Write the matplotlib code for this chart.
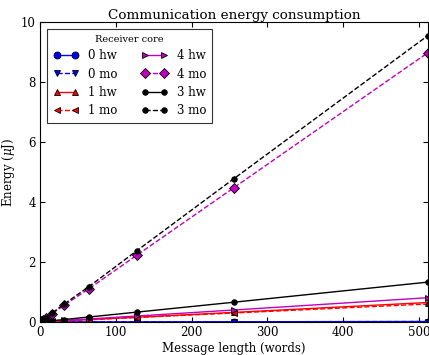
import matplotlib
matplotlib.use("Agg")
import matplotlib.pyplot as plt

plt.rcParams['font.family'] = ['DejaVu Serif']
plt.rcParams['mathtext.fontset'] = 'dejavuserif'

x = [1, 2, 4, 8, 16, 32, 64, 128, 256, 512]
e0hw = [0.0, 0.0, 0.0, 0.0, 0.001, 0.001, 0.002, 0.004, 0.008, 0.015]
e0mo = [0.0, 0.0, 0.0, 0.0, 0.001, 0.001, 0.002, 0.004, 0.008, 0.016]
e1hw = [0.002, 0.003, 0.006, 0.011, 0.021, 0.041, 0.08, 0.16, 0.32, 0.65]
e1mo = [0.002, 0.003, 0.006, 0.01, 0.019, 0.038, 0.075, 0.15, 0.3, 0.6]
e4hw = [0.002, 0.004, 0.007, 0.013, 0.026, 0.052, 0.1, 0.2, 0.4, 0.81]
e4mo = [0.018, 0.035, 0.07, 0.14, 0.28, 0.56, 1.1, 2.23, 4.48, 8.98]
e3hw = [0.003, 0.005, 0.01, 0.021, 0.042, 0.083, 0.165, 0.33, 0.66, 1.33]
e3mo = [0.019, 0.037, 0.075, 0.15, 0.3, 0.6, 1.17, 2.38, 4.78, 9.55]

series = [
    ("0 hw", e0hw, 'b', '-', 'o', 5),
    ("0 mo", e0mo, 'b', '--', 'v', 5),
    ("1 hw", e1hw, 'r', '-', '^', 5),
    ("1 mo", e1mo, 'r', '--', '<', 5),
    ("4 hw", e4hw, 'm', '-', '>', 5),
    ("4 mo", e4mo, 'm', '--', 'D', 5),
    ("3 hw", e3hw, 'k', '-', 'o', 4),
    ("3 mo", e3mo, 'k', '--', 'o', 4),
]

fig = plt.figure(figsize=(4.29, 3.55), dpi=100)
ax = fig.add_axes([40/429, 33/355, 388/429, 300/355])
for lab, y, c, ls, m, ms in series:
    ax.plot(x, y, color=c, linestyle=ls, marker=m, markersize=ms, label=lab,
            markeredgecolor='k', markeredgewidth=0.6, clip_on=True, linewidth=1)

ax.set_xlim(0, 512)
ax.set_ylim(0, 10)
ax.set_xticks([0, 100, 200, 300, 400, 500])
ax.set_yticks([0, 2, 4, 6, 8, 10])
ax.tick_params(direction='in', top=True, right=True, labelsize=8.5, pad=3)
ax.set_xlabel('Message length (words)', fontsize=8.5, labelpad=2)
ax.set_ylabel(r'Energy ($\mu$J)', fontsize=8.5, labelpad=3)
ax.set_title('Communication energy consumption', fontsize=9.7, pad=2)
leg = ax.legend(loc='upper left', ncol=2, title='Receiver core', fontsize=8.5,
                title_fontsize=7, fancybox=False, edgecolor='k', numpoints=2,
                handlelength=2.2, columnspacing=2.0, borderaxespad=0.6,
                labelspacing=0.45, borderpad=0.5)
leg.get_frame().set_linewidth(0.8)
fig.savefig('out.png', dpi=100)
